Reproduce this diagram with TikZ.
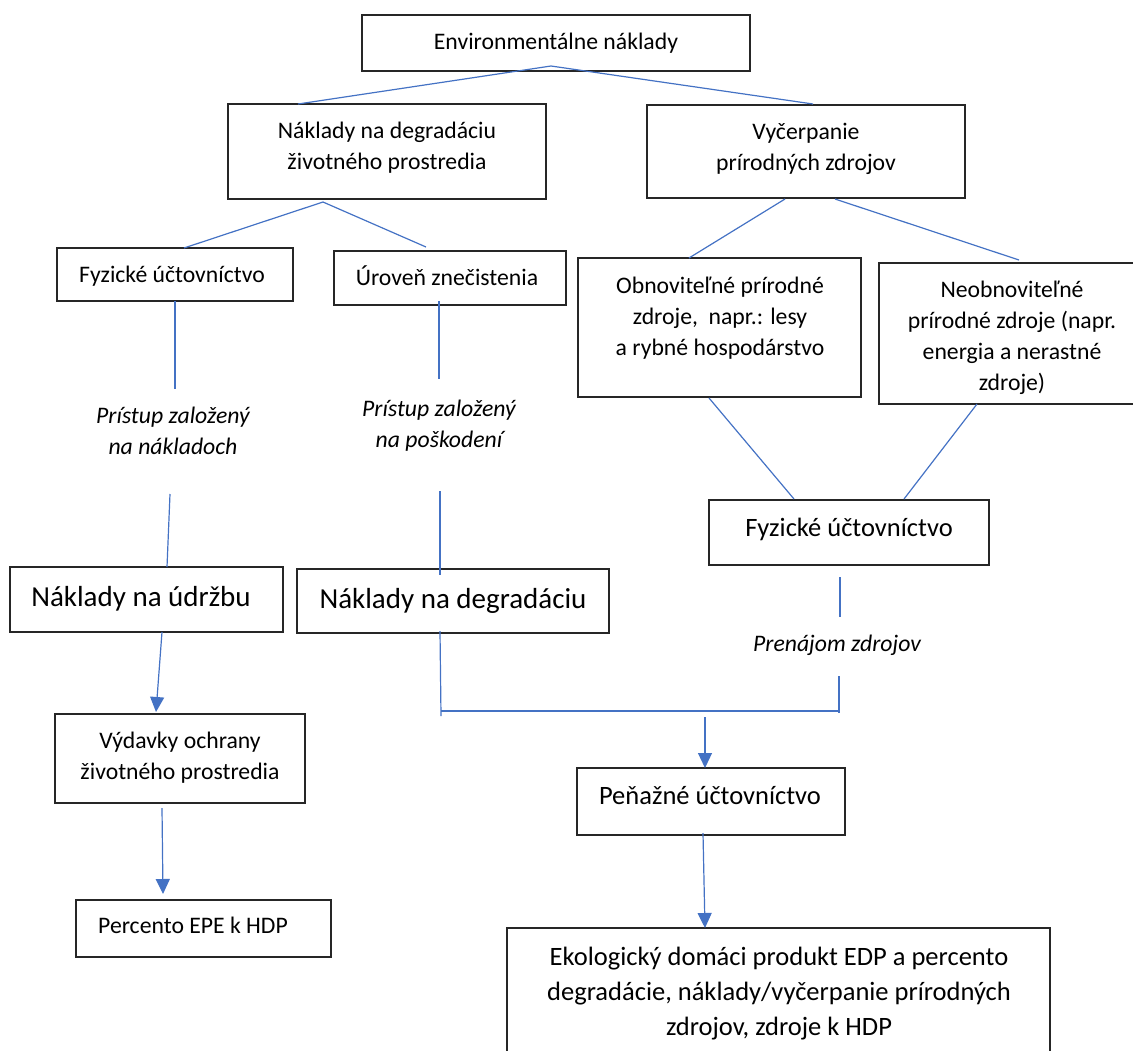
\documentclass[tikz,border=0pt]{standalone}
\usepackage{fontspec}
\setmainfont{Carlito}
\usetikzlibrary{arrows.meta}
\definecolor{lnblue}{HTML}{4472C4}
\definecolor{bxline}{HTML}{262626}
\newcommand{\fsnorm}{\fontsize{23.7}{31}\selectfont}
\newcommand{\fsmed}{\fontsize{26.5}{35}\selectfont}
\newcommand{\fsbig}{\fontsize{29}{36}\selectfont}
\tikzset{
  box/.style={draw=bxline, line width=1.4pt, inner sep=0pt},
  txt/.style={align=center, anchor=base, inner sep=0pt, font=\fsnorm},
  conn/.style={draw=lnblue, line width=1.2pt},
  arr/.style={conn, -{Triangle[width=14pt,length=15pt]}, shorten >=0pt}
}
\begin{document}
\begin{tikzpicture}[x=1pt,y=-1pt]
\useasboundingbox (0,0) rectangle (1133,1050);
% boxes
\node[box, minimum width=388pt, minimum height=56pt] (env) at (556,43) {};
\node[box, minimum width=318pt, minimum height=95pt] (degr) at (387,151.5) {};
\node[box, minimum width=318pt, minimum height=93pt] (vyc) at (806,151.5) {};
\node[box, minimum width=236pt, minimum height=53pt] (fyz1) at (175,274.5) {};
\node[box, minimum width=232pt, minimum height=54pt] (uro) at (450,278) {};
\node[box, minimum width=283pt, minimum height=139pt] (obn) at (719.5,327.5) {};
\node[box, minimum width=266pt, minimum height=141pt] (neo) at (1012,333.5) {};
\node[box, minimum width=273pt, minimum height=65pt] (udr) at (146.5,599.5) {};
\node[box, minimum width=312pt, minimum height=64pt] (deg2) at (453,601) {};
\node[box, minimum width=280pt, minimum height=65pt] (fyz2) at (849,532.5) {};
\node[box, minimum width=250pt, minimum height=89pt] (vyd) at (180,758.5) {};
\node[box, minimum width=255pt, minimum height=57pt] (per) at (203.5,928.5) {};
\node[box, minimum width=268pt, minimum height=67pt] (pen) at (711,801.5) {};
\node[box, minimum width=543pt, minimum height=152pt] (eko) at (778.5,1004) {};
% texts (multi-line: anchor is the last line's baseline)
\node[txt] (tenv) at (556,49) {Environmentálne náklady};
\node[txt] (tdegr) at (387,169) {Náklady na degradáciu\\životného prostredia};
\node[txt] (tvyc) at (806,170) {Vyčerpanie\\prírodných zdrojov};
\node[txt] (tfyz1) at (172,282) {Fyzické účtovníctvo};
\node[txt] (turo) at (447,285) {Úroveň znečistenia};
\node[txt] (tobn) at (720,355) {Obnoviteľné prírodné\\zdroje,\ \ napr.: lesy\\a rybné hospodárstvo};
\node[txt] (tneo) at (1012,390) {Neobnoviteľné\\prírodné zdroje (napr.\\energia a nerastné\\zdroje)};
\node[txt, font=\fsnorm\itshape] (tpr1) at (173,454) {Prístup založený\\na nákladoch};
\node[txt, font=\fsnorm\itshape] (tpr2) at (439,447) {Prístup založený\\na poškodení};
\node[txt, font=\fsbig] (tudr) at (141,606) {Náklady na údržbu};
\node[txt, font=\fsbig] (tdeg2) at (453,608) {Náklady na degradáciu};
\node[txt, font=\fsmed] (tfyz2) at (849,536) {Fyzické účtovníctvo};
\node[txt, font=\fsnorm\itshape] (tpren) at (837,651) {Prenájom zdrojov};
\node[txt] (tvyd) at (180,779) {Výdavky ochrany\\životného prostredia};
\node[txt] (tper) at (193,933) {Percento EPE k HDP};
\node[txt, font=\fsmed] (tpen) at (710,804) {Peňažné účtovníctvo};
\node[txt, font=\fsmed] (teko) at (779,1035) {Ekologický domáci produkt EDP a percento\\degradácie, náklady/vyčerpanie prírodných\\zdrojov, zdroje k HDP};
% connector end points
\coordinate (a0) at (551,66);
\coordinate (a1) at (298,104);
\coordinate (a2) at (813,104);
\coordinate (b0) at (323,202);
\coordinate (b1) at (184,248);
\coordinate (b2) at (426,247);
\coordinate (c1) at (785,199);
\coordinate (c2) at (689,258);
\coordinate (c3) at (835,199);
\coordinate (c4) at (1019,260);
\coordinate (d1) at (175,301);
\coordinate (d2) at (175,389);
\coordinate (d3) at (170,494);
\coordinate (d4) at (167,567);
\coordinate (e1) at (439,301);
\coordinate (e2) at (439,379);
\coordinate (e3) at (440,491);
\coordinate (e4) at (440,575);
\coordinate (f1) at (162,632);
\coordinate (f2) at (156,712);
\coordinate (g1) at (440,631);
\coordinate (g2) at (441,716);
\coordinate (h1) at (441,711);
\coordinate (h2) at (839,711);
\coordinate (h3) at (839,676);
\coordinate (h4) at (839,713);
\coordinate (i1) at (840,577);
\coordinate (i2) at (840,617);
\coordinate (j1) at (705,717);
\coordinate (j2) at (705,768);
\coordinate (k1) at (709,398);
\coordinate (k2) at (794,499);
\coordinate (k3) at (977,404);
\coordinate (k4) at (904,499);
\coordinate (m1) at (162,808);
\coordinate (m2) at (163,894);
\coordinate (n1) at (703,833);
\coordinate (n2) at (705,928);
% connectors
\draw[conn] (a1) -- (a0) -- (a2);
\draw[conn] (b1) -- (b0) -- (b2);
\draw[conn] (c1) -- (c2);
\draw[conn] (c3) -- (c4);
\draw[conn] (d1) -- (d2);
\draw[conn] (d3) -- (d4);
\draw[conn] (e1) -- (e2);
\draw[conn] (e3) -- (e4);
\draw[arr] (f1) -- (f2);
\draw[conn] (g1) -- (g2);
\draw[conn] (h1) -- (h2);
\draw[conn] (h3) -- (h4);
\draw[conn] (i1) -- (i2);
\draw[arr] (j1) -- (j2);
\draw[conn] (k1) -- (k2);
\draw[conn] (k3) -- (k4);
\draw[arr] (m1) -- (m2);
\draw[arr] (n1) -- (n2);
\end{tikzpicture}
\end{document}
